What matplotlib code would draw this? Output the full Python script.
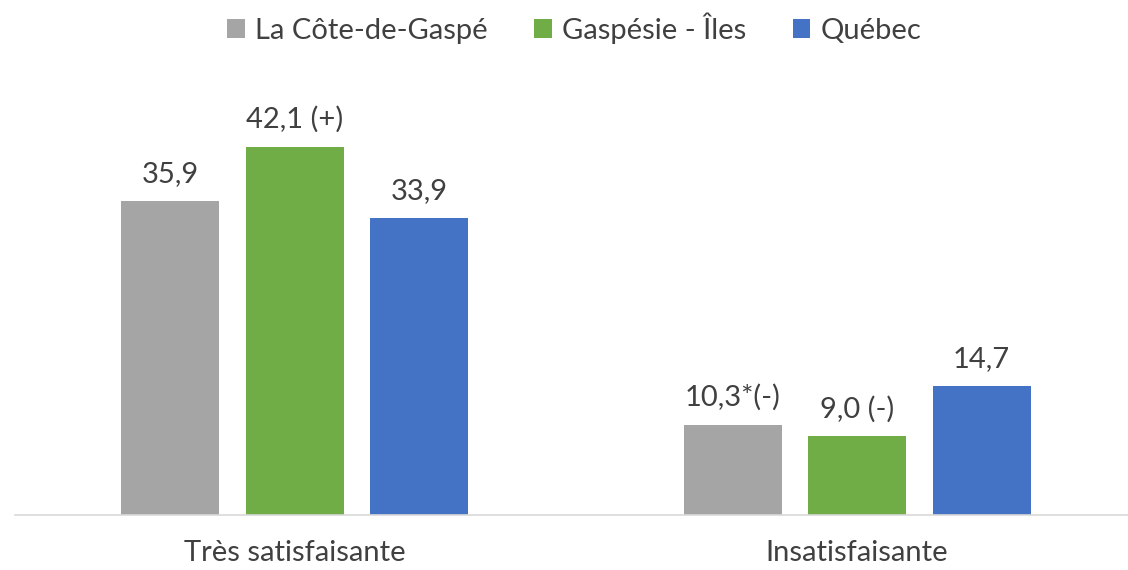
import numpy as np
import matplotlib.pyplot as plt
from matplotlib.patches import Patch

plt.rcParams["font.family"] = ["Lato", "DejaVu Sans"]

categories = ["Très satisfaisante", "Insatisfaisante"]
series_names = ["La Côte-de-Gaspé", "Gaspésie - Îles", "Québec"]
cote_gaspe = [35.9, 10.3]
gaspesie = [42.1, 9.0]
quebec = [33.9, 14.7]
cote_labels = ["35,9", "10,3*(-)"]
gaspesie_labels = ["42,1 (+)", "9,0 (-)"]
quebec_labels = ["33,9", "14,7"]

COLORS = ["#A5A5A5", "#70AD47", "#4472C4"]
TEXT = "#404040"
FS = 21

W, H = 1128, 570
fig = plt.figure(figsize=(W / 100, H / 100), dpi=100)
# axes placed in pixel terms: baseline at y=515, spans x 15..1128
base_px = 515
px_per_unit = 8.75
ymax = 50
ax = fig.add_axes([15 / W, (H - base_px) / H, 1113 / W, ymax * px_per_unit / H])

x = np.arange(len(categories))
bw = 98 / 562
off = 124.5 / 562

series = [cote_gaspe, gaspesie, quebec]
labels = [cote_labels, gaspesie_labels, quebec_labels]
for i, (vals, labs) in enumerate(zip(series, labels)):
    pos = x + (i - 1) * off
    bars = ax.bar(pos, vals, width=bw, color=COLORS[i], zorder=2)
    for b, lab in zip(bars, labs):
        ax.annotate(lab, (b.get_x() + b.get_width() / 2, b.get_height()),
                    xytext=(0, 10), textcoords="offset points",
                    ha="center", va="bottom", fontsize=FS, color=TEXT)

ax.set_xlim(-0.498, 1.482)
ax.set_ylim(0, ymax)
for s in ["top", "right", "left"]:
    ax.spines[s].set_visible(False)
ax.spines["bottom"].set_color("#D9D9D9")
ax.spines["bottom"].set_linewidth(1.2)
ax.set_yticks([])
ax.set_xticks(x)
ax.set_xticklabels(categories, fontsize=FS, color=TEXT)
ax.tick_params(axis="x", length=0, pad=18)

handles = [Patch(facecolor=c) for c in COLORS]
fig.legend(handles, series_names, loc="center", bbox_to_anchor=(0.509, 1 - 28 / H),
           ncol=3, frameon=False, fontsize=FS, labelcolor=TEXT,
           handlelength=0.6, handleheight=0.6, handletextpad=0.35, columnspacing=1.6)

fig.savefig("out.png", dpi=100)
